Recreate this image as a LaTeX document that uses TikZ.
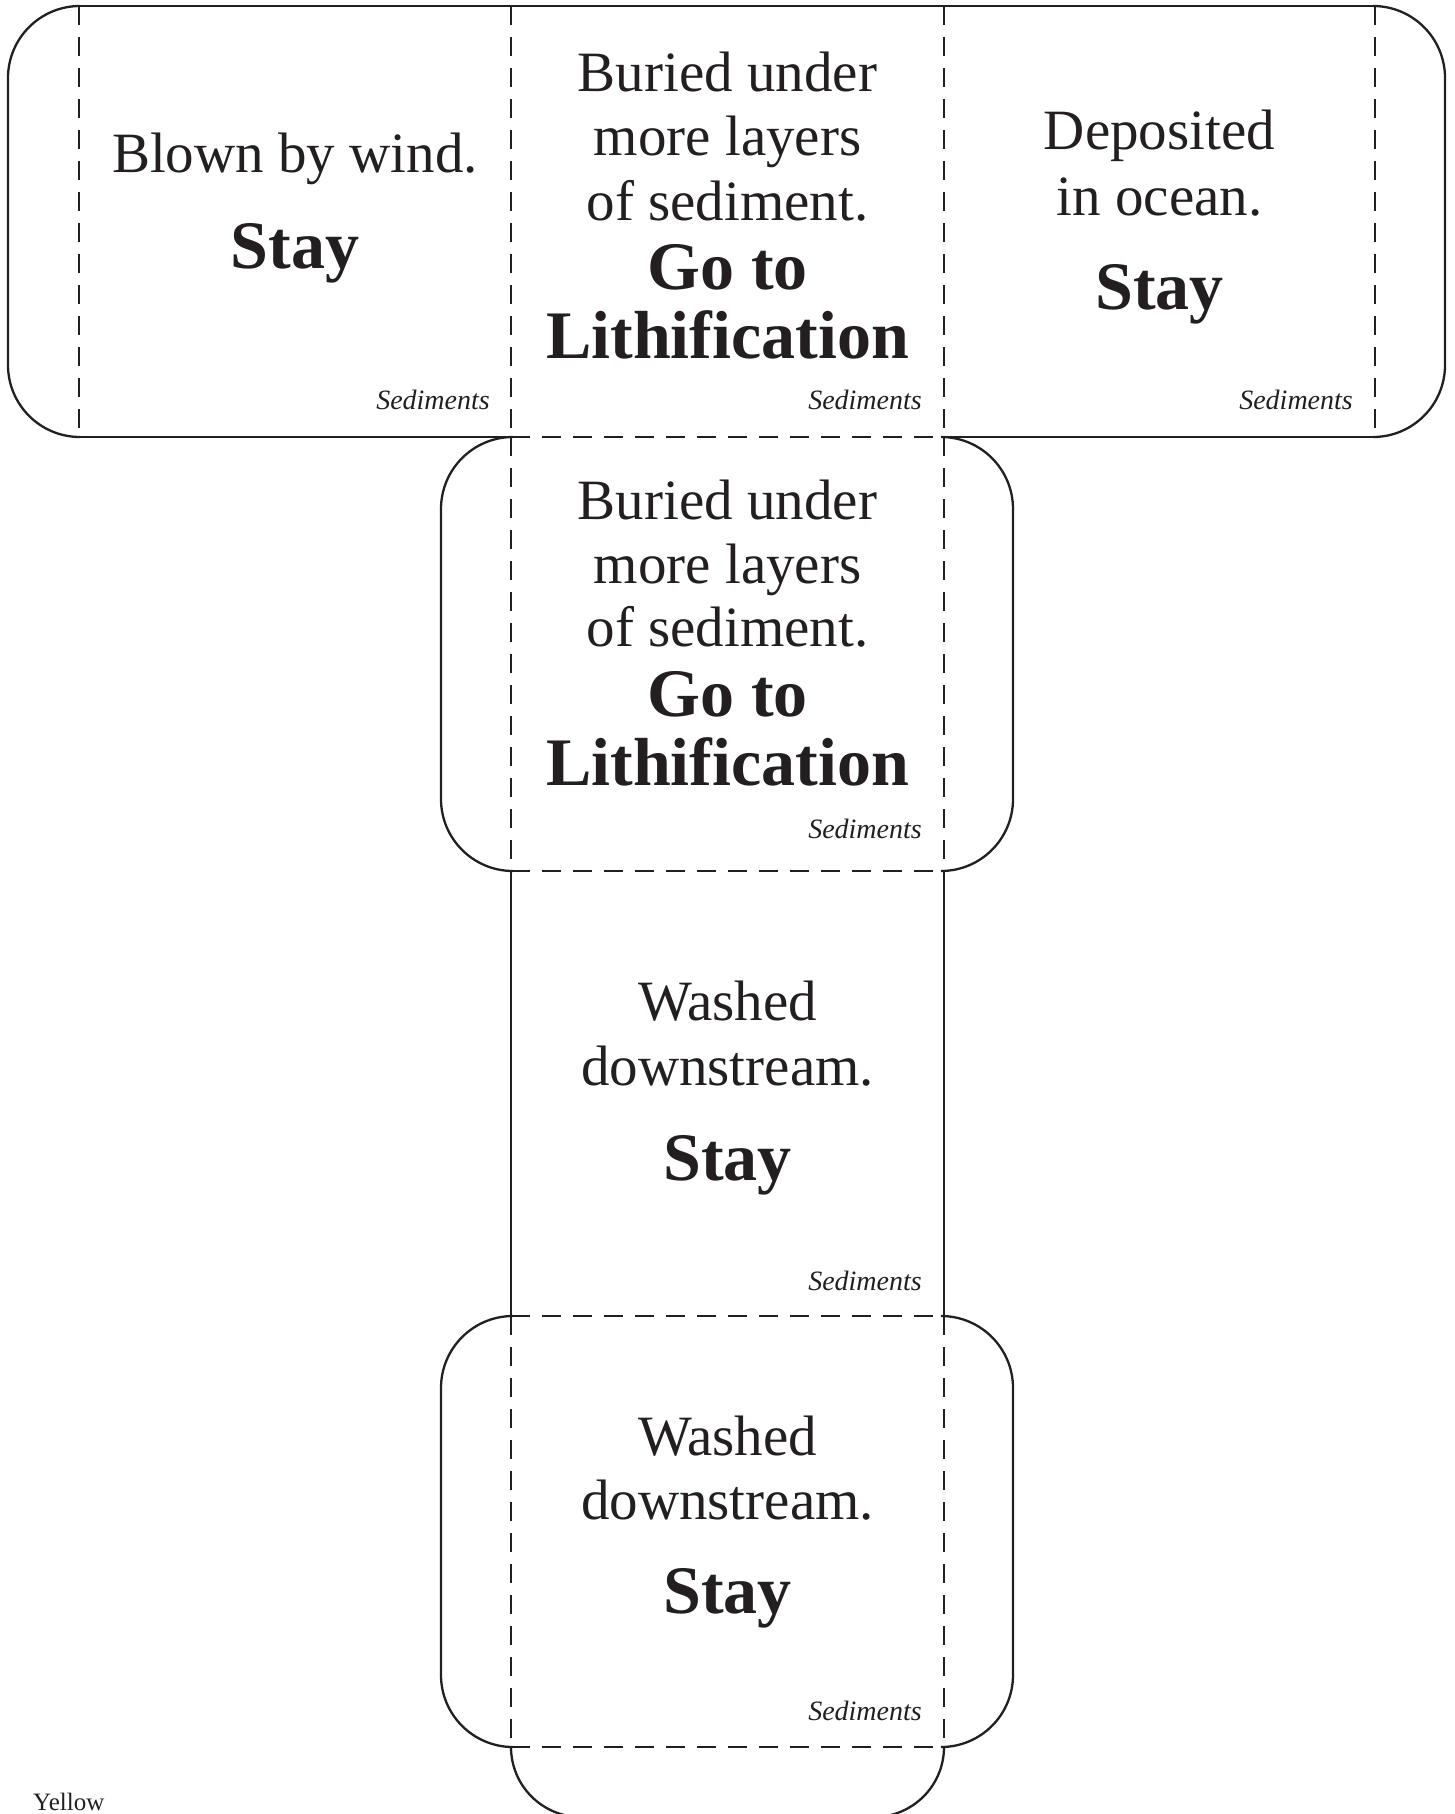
\documentclass[tikz,border=0pt]{standalone}
\usepackage{fontspec}
\setmainfont{Liberation Serif}
\definecolor{ink}{HTML}{231F20}

\begin{document}
\begin{tikzpicture}
  [x=1pt,y=-1pt,
   every node/.style={inner sep=0pt,anchor=base,text=ink},
   plain/.style={font=\fontsize{57}{64}\selectfont},
   order/.style={font=\fontsize{68}{69}\selectfont\bfseries},
   tag/.style={font=\fontsize{28}{30}\selectfont\itshape,anchor=base east},
   cut/.style={line width=2.3pt,draw=ink,line cap=round},
   fold/.style={line width=2.4pt,draw=ink,dash pattern=on 19pt off 12pt}]
  \useasboundingbox (0,0) rectangle (1455,1814);
  % cut lines
  \draw[cut] (79,6) -- (1375,6);
  \draw[cut] (79,437) -- (511,437) (944,437) -- (1375,437);
  \draw[cut] (511,871) -- (511,1316) (944,871) -- (944,1316);
  \foreach \fx/\ox/\ya/\yb in {79/8/6/437,1375/1445/6/437,511/441/437/871,944/1013/437/871,511/441/1316/1747,944/1013/1316/1747}
    \draw[cut,rounded corners=72pt] (\fx,\ya) -| (\ox,\yb) -- (\fx,\yb);
  \draw[cut,rounded corners=70pt] (511,1747) |- (944,1817) -- (944,1747);
  % fold lines
  \foreach \x in {79,511,944,1375}
    \draw[fold] (\x,6) -- (\x,437);
  \foreach \y in {437,871,1316,1747}
    \draw[fold] (511,\y) -- (944,\y);
  \foreach \ya/\yb in {437/871,1316/1747}
    \draw[fold] (511,\ya) -- (511,\yb) (944,\ya) -- (944,\yb);
  % faces
  \node[plain] (wa) at (295,173) {Blown by wind.};
  \node[order] (wb) at (295,268) {Stay};
  \node[plain] (ba) at (727.5,92) {Buried under};
  \node[plain] (bb) at (727.5,156) {more layers};
  \node[plain] (bc) at (727.5,220) {of sediment.};
  \node[order] (bd) at (727.5,289) {Go to};
  \node[order] (be) at (727.5,358) {Lithification};
  \node[plain] (oa) at (1159.5,150) {Deposited};
  \node[plain] (ob) at (1159.5,215) {in ocean.};
  \node[order] (oc) at (1159.5,309) {Stay};
  \node[plain] (bA) at (727.5,519) {Buried under};
  \node[plain] (bB) at (727.5,583) {more layers};
  \node[plain] (bC) at (727.5,646) {of sediment.};
  \node[order] (bD) at (727.5,716) {Go to};
  \node[order] (bE) at (727.5,785) {Lithification};
  \node[plain] (da) at (727.5,1020) {Washed};
  \node[plain] (db) at (727.5,1085) {downstream.};
  \node[order] (dc) at (727.5,1180) {Stay};
  \node[plain] (dA) at (727.5,1455) {Washed};
  \node[plain] (dB) at (727.5,1519) {downstream.};
  \node[order] (dC) at (727.5,1613) {Stay};
  \foreach \x/\y [count=\i] in {490/409,922/409,1353/409,922/838,922/1290,922/1720}
    \node[tag] (sed\i) at (\x,\y) {Sediments};
  \node[anchor=base west,font=\fontsize{25}{30}\selectfont] (colour) at (33,1810) {Yellow};
\end{tikzpicture}
\end{document}
